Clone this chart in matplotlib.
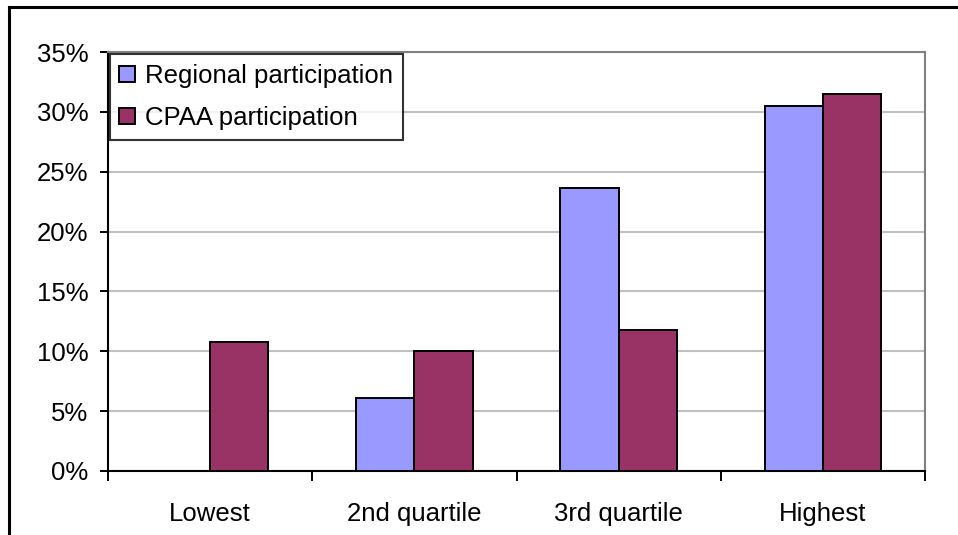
import matplotlib.pyplot as plt
import numpy as np
from matplotlib.lines import Line2D

## Data
categories = ['Lowest', '2nd quartile', '3rd quartile', 'Highest']
regional = [0.0, 6.1, 23.6, 30.5]
cpaa = [10.8, 10.0, 11.8, 31.5]
labels = ['Regional participation', 'CPAA participation']
colors = ['#9999FF', '#993366']

plt.rcParams['font.family'] = ['Liberation Sans', 'DejaVu Sans']
fs = 18.5

fig = plt.figure(figsize=(9.58, 5.35), dpi=100)
ax = fig.add_axes([108 / 958, 64 / 535, 817 / 958, 419 / 535])

x = np.arange(len(categories))
w = 0.285
ax.bar(x - w / 2, regional, w, color=colors[0], edgecolor='black', linewidth=1.4, label=labels[0], zorder=3)
ax.bar(x + w / 2, cpaa, w, color=colors[1], edgecolor='black', linewidth=1.4, label=labels[1], zorder=3)

ax.set_xlim(-0.5, len(categories) - 0.5)
ax.set_ylim(0, 35)
ax.set_yticks(np.arange(0, 36, 5))
ax.set_yticklabels([f'{v}%' for v in range(0, 36, 5)], fontsize=fs)
ax.yaxis.grid(True, color='#C0C0C0', linewidth=1.5, zorder=0)
ax.set_axisbelow(True)

# category labels centred, ticks at the category boundaries
ax.set_xticks(x)
ax.set_xticklabels(categories, fontsize=fs)
ax.set_xticks(np.arange(-0.5, len(categories), 1), minor=True)
ax.tick_params(axis='x', which='major', length=0, pad=22)
ax.tick_params(axis='x', which='minor', length=7, width=1.4, direction='out', color='black')
ax.tick_params(axis='y', length=6, width=1.4, direction='out', pad=8, color='black')

for s in ['top', 'right']:
    ax.spines[s].set_color('#808080')
    ax.spines[s].set_linewidth(1.5)
for s in ['left', 'bottom']:
    ax.spines[s].set_color('black')
    ax.spines[s].set_linewidth(1.5)

leg = ax.legend(loc='upper left', bbox_to_anchor=(0.002, 0.995), borderaxespad=0,
                fontsize=fs, frameon=True, fancybox=False, handlelength=0.6, handleheight=0.6,
                handletextpad=0.4, labelspacing=0.72, borderpad=0.38)
leg.get_frame().set_edgecolor('black')
leg.get_frame().set_linewidth(1.5)
leg.set_zorder(5)

# outer chart frame (cut off at bottom and right)
fig.add_artist(Line2D([9 / 958, 9 / 958], [0, 1 - 7 / 535], color='black', linewidth=2.2, transform=fig.transFigure))
fig.add_artist(Line2D([9 / 958, 1], [1 - 7 / 535, 1 - 7 / 535], color='black', linewidth=2.2, transform=fig.transFigure))

plt.savefig('out.png', dpi=100)
